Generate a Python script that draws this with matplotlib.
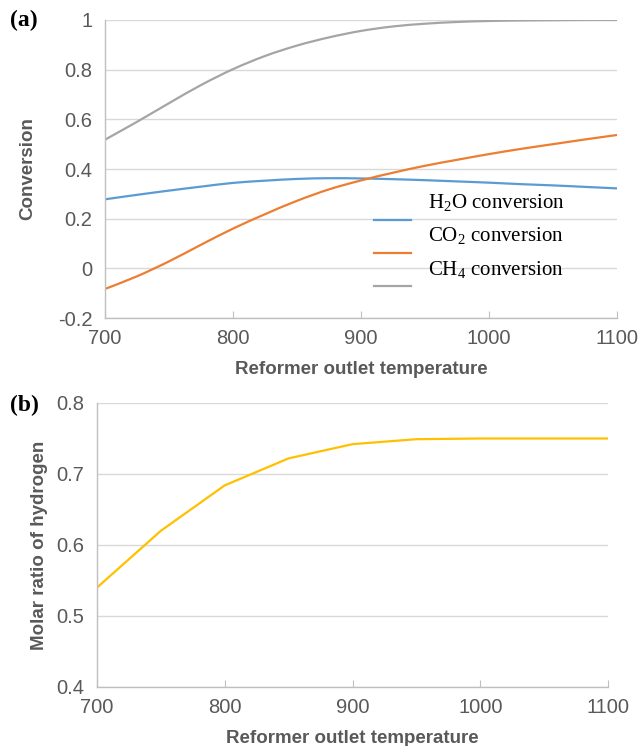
import matplotlib
matplotlib.use("Agg")
import matplotlib.pyplot as plt
from matplotlib.path import Path
from matplotlib.patches import PathPatch
from matplotlib.lines import Line2D
from matplotlib.legend_handler import HandlerLine2D

# panel (a): conversion vs reformer outlet temperature
temp_a = [700, 725, 750, 775, 800, 825, 850, 875, 900, 925, 950, 975, 1000, 1025, 1050, 1075, 1100]
h2o_conv = [0.278, 0.296, 0.313, 0.329, 0.344, 0.353, 0.360, 0.363, 0.362, 0.359, 0.355, 0.350, 0.345, 0.339, 0.334, 0.328, 0.322]
co2_conv = [-0.083, -0.032, 0.028, 0.095, 0.160, 0.218, 0.272, 0.318, 0.354, 0.385, 0.413, 0.437, 0.460, 0.481, 0.500, 0.519, 0.537]
ch4_conv = [0.518, 0.590, 0.665, 0.738, 0.802, 0.855, 0.897, 0.930, 0.956, 0.974, 0.985, 0.992, 0.996, 0.998, 0.999, 1.0, 1.0]

# panel (b): molar ratio of hydrogen
temp_b = [700, 750, 800, 850, 900, 950, 1000, 1050, 1100]
h2_ratio = [0.540, 0.620, 0.684, 0.722, 0.742, 0.749, 0.750, 0.750, 0.750]

GREY_TXT = "#595959"
SPINE = "#bfbfbf"
GRID = "#d9d9d9"

plt.rcParams["font.family"] = ["Liberation Sans", "DejaVu Sans"]
plt.rcParams["mathtext.fontset"] = "custom"
plt.rcParams["mathtext.rm"] = "Liberation Serif"

fig = plt.figure(figsize=(6.39, 7.46), dpi=100)
ax1 = fig.add_axes([0.1643, 0.5737, 0.8013, 0.3995])
ax2 = fig.add_axes([0.1518, 0.0791, 0.7997, 0.3807])


class LowKey(HandlerLine2D):
    # legend key sits a bit below its label, like the original
    def create_artists(self, *args, **kwargs):
        arts = super().create_artists(*args, **kwargs)
        for a in arts:
            a.set_ydata([y - 13 for y in a.get_ydata()])
        return arts


def smooth_line(ax, x, y, color, label=None):
    # excel-style smoothed line: catmull-rom segments as cubic beziers
    verts = [(x[0], y[0])]
    codes = [Path.MOVETO]
    n = len(x)
    for i in range(n - 1):
        x0, y0 = (x[i - 1], y[i - 1]) if i > 0 else (x[i], y[i])
        x3, y3 = (x[i + 2], y[i + 2]) if i + 2 < n else (x[i + 1], y[i + 1])
        c1 = (x[i] + (x[i + 1] - x0) / 6, y[i] + (y[i + 1] - y0) / 6)
        c2 = (x[i + 1] - (x3 - x[i]) / 6, y[i + 1] - (y3 - y[i]) / 6)
        verts += [c1, c2, (x[i + 1], y[i + 1])]
        codes += [Path.CURVE4] * 3
    ax.add_patch(PathPatch(Path(verts, codes), fill=False, edgecolor=color,
                           lw=1.6, capstyle="butt"))
    return Line2D([], [], color=color, lw=1.6, label=label)


def style(ax):
    for s in ["top", "right"]:
        ax.spines[s].set_visible(False)
    for s in ["left", "bottom"]:
        ax.spines[s].set_color(SPINE)
        ax.spines[s].set_linewidth(1.0)
    ax.grid(axis="y", color=GRID, linewidth=1.0)
    ax.set_axisbelow(True)
    ax.tick_params(axis="x", direction="in", length=5, color=SPINE, pad=8,
                   labelsize=14.5, labelcolor=GREY_TXT)
    ax.tick_params(axis="y", length=0, pad=9, labelsize=14.5, labelcolor=GREY_TXT)
    ax.set_xlim(700, 1100)
    ax.set_xticks([700, 800, 900, 1000, 1100])
    ax.set_xlabel("Reformer outlet temperature", fontsize=13.5, fontweight="bold",
                  color=GREY_TXT, labelpad=9)


style(ax1)
handles = [
    smooth_line(ax1, temp_a, h2o_conv, "#5B9BD5", "H$_2$O conversion"),
    smooth_line(ax1, temp_a, co2_conv, "#ED7D31", "CO$_2$ conversion"),
    smooth_line(ax1, temp_a, ch4_conv, "#A5A5A5", "CH$_4$ conversion"),
]
ax1.set_ylim(-0.2, 1.0)
ax1.set_yticks([-0.2, 0, 0.2, 0.4, 0.6, 0.8, 1.0])
ax1.set_yticklabels(["-0.2", "0", "0.2", "0.4", "0.6", "0.8", "1"])
ax1.set_ylabel("Conversion", fontsize=13.5, fontweight="bold", color=GREY_TXT)
ax1.yaxis.set_label_coords(-0.135, 0.5)
ax1.legend(handles=handles, loc="upper left", bbox_to_anchor=(0.505, 0.455),
           frameon=False, prop={"family": "Liberation Serif", "size": 15},
           handlelength=1.8, handletextpad=0.8, labelspacing=0.55, borderpad=0,
           handler_map={Line2D: LowKey()})

style(ax2)
ax2.plot(temp_b, h2_ratio, color="#FFC000", lw=1.6)
ax2.set_ylim(0.4, 0.8)
ax2.set_yticks([0.4, 0.5, 0.6, 0.7, 0.8])
ax2.set_ylabel("Molar ratio of hydrogen", fontsize=13.5, fontweight="bold", color=GREY_TXT)
ax2.yaxis.set_label_coords(-0.095, 0.5)

fig.text(0.015, 0.973, "(a)", fontsize=17, fontweight="bold",
         family="Liberation Serif", va="center")
fig.text(0.015, 0.457, "(b)", fontsize=17, fontweight="bold",
         family="Liberation Serif", va="center")

fig.savefig("out.png", dpi=100)
